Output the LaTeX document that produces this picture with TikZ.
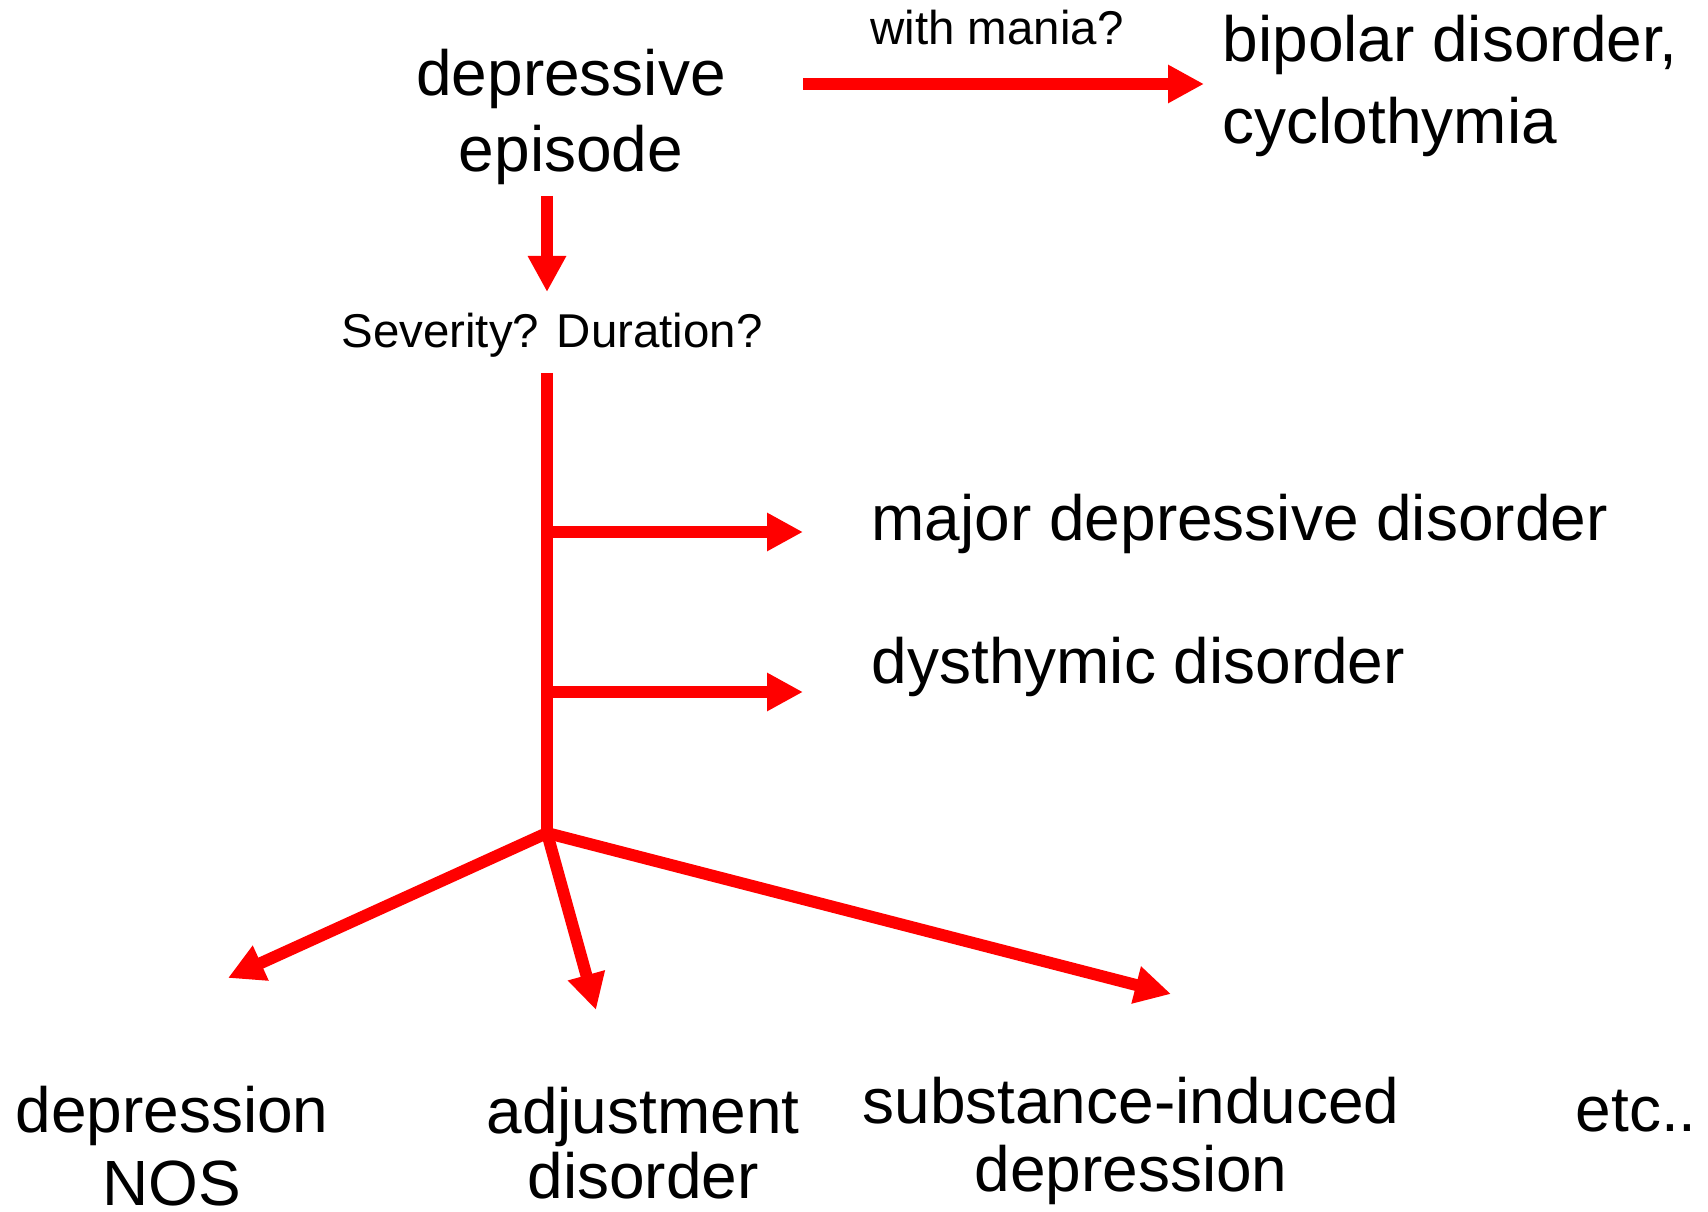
\documentclass[tikz,border=0pt]{standalone}
\usepackage{fontspec}
\setmainfont{Liberation Sans}
\usepackage{tikz}
\usetikzlibrary{arrows.meta}

\begin{document}
\begin{tikzpicture}
\tikzstyle{every node}=[inner sep=0pt, font=\fontsize{18.2pt}{20.5pt}\selectfont]
\tikzstyle{small}=[font=\fontsize{13.5pt}{16pt}\selectfont]
\tikzstyle{arrow}=[red, line width=3.4pt, -{Triangle[length=3.6mm, width=3.6mm]}]
\useasboundingbox (0,0) rectangle (17.08,12.12);
\node [align=center, font=\fontsize{18.2pt}{21.8pt}\selectfont] (episode) at (5.71,10.95) {depressive\\episode};
\node [align=left, anchor=west, font=\fontsize{18.2pt}{23.6pt}\selectfont] (bipolar) at (12.22,11.26) {bipolar disorder,\\cyclothymia};
\node [small, anchor=base] (mania) at (9.97,11.67) {with mania?};
\node [small, anchor=base] (severity) at (5.52,8.64) {Severity? Duration?};
\node [anchor=base west] (major) at (8.71,6.71) {major depressive disorder};
\node [anchor=base west] (dysthymic) at (8.71,5.28) {dysthymic disorder};
\node [align=center, font=\fontsize{18.2pt}{20.8pt}\selectfont] (nos) at (1.72,0.655) {depression\\NOS};
\node [align=center, font=\fontsize{18.2pt}{18.4pt}\selectfont] (adjustment) at (6.43,0.69) {adjustment\\disorder};
\node [align=center, font=\fontsize{18.2pt}{19.3pt}\selectfont] (substance) at (11.31,0.71) {substance-induced\\depression};
\node [anchor=base west] (etc) at (15.75,0.80) {etc..};
\coordinate (maniastart) at (8.03,11.28);
\coordinate (maniaend) at (12.04,11.28);
\coordinate (downstart) at (5.47,10.16);
\coordinate (downend) at (5.47,9.20);
\coordinate (trunk) at (5.47,8.39);
\coordinate (fork) at (5.47,3.79);
\coordinate (majorstart) at (5.47,6.80);
\coordinate (majorend) at (8.03,6.80);
\coordinate (dysstart) at (5.47,5.20);
\coordinate (dysend) at (8.03,5.20);
\coordinate (nosend) at (2.28,2.34);
\coordinate (adjend) at (5.96,2.02);
\coordinate (subend) at (11.71,2.18);
\draw [arrow] (maniastart) -- (maniaend);
\draw [arrow] (downstart) -- (downend);
\draw [red, line width=3.4pt] (trunk) -- (fork);
\draw [arrow] (majorstart) -- (majorend);
\draw [arrow] (dysstart) -- (dysend);
\draw [arrow] (fork) -- (nosend);
\draw [arrow] (fork) -- (adjend);
\draw [arrow] (fork) -- (subend);
\end{tikzpicture}
\end{document}
